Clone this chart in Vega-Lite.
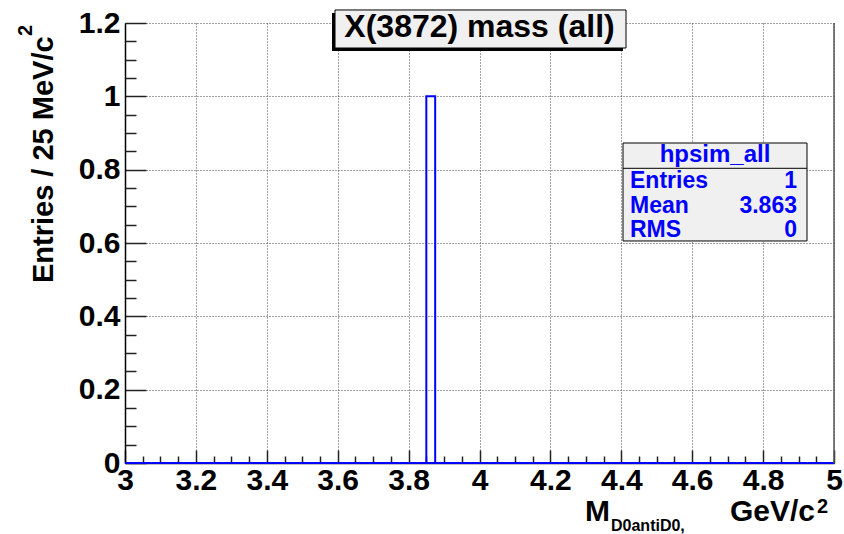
{
  "$schema": "https://vega.github.io/schema/vega-lite/v6.json",
  "width": 709,
  "height": 440,
  "autosize": "none",
  "padding": {"left": 125, "top": 23, "right": 10, "bottom": 71},
  "background": "white",
  "config": {
    "view": {"stroke": null},
    "font": "Liberation Sans",
    "axis": {"labelFont": "Liberation Sans", "titleFont": "Liberation Sans"},
    "text": {"font": "Liberation Sans", "fontWeight": "bold", "baseline": "alphabetic"}
  },
  "datasets": {
    "hpsim_all": [
      {"lo": 3.000, "hi": 3.025, "n": 0}, {"lo": 3.025, "hi": 3.050, "n": 0},
      {"lo": 3.050, "hi": 3.075, "n": 0}, {"lo": 3.075, "hi": 3.100, "n": 0},
      {"lo": 3.100, "hi": 3.125, "n": 0}, {"lo": 3.125, "hi": 3.150, "n": 0},
      {"lo": 3.150, "hi": 3.175, "n": 0}, {"lo": 3.175, "hi": 3.200, "n": 0},
      {"lo": 3.200, "hi": 3.225, "n": 0}, {"lo": 3.225, "hi": 3.250, "n": 0},
      {"lo": 3.250, "hi": 3.275, "n": 0}, {"lo": 3.275, "hi": 3.300, "n": 0},
      {"lo": 3.300, "hi": 3.325, "n": 0}, {"lo": 3.325, "hi": 3.350, "n": 0},
      {"lo": 3.350, "hi": 3.375, "n": 0}, {"lo": 3.375, "hi": 3.400, "n": 0},
      {"lo": 3.400, "hi": 3.425, "n": 0}, {"lo": 3.425, "hi": 3.450, "n": 0},
      {"lo": 3.450, "hi": 3.475, "n": 0}, {"lo": 3.475, "hi": 3.500, "n": 0},
      {"lo": 3.500, "hi": 3.525, "n": 0}, {"lo": 3.525, "hi": 3.550, "n": 0},
      {"lo": 3.550, "hi": 3.575, "n": 0}, {"lo": 3.575, "hi": 3.600, "n": 0},
      {"lo": 3.600, "hi": 3.625, "n": 0}, {"lo": 3.625, "hi": 3.650, "n": 0},
      {"lo": 3.650, "hi": 3.675, "n": 0}, {"lo": 3.675, "hi": 3.700, "n": 0},
      {"lo": 3.700, "hi": 3.725, "n": 0}, {"lo": 3.725, "hi": 3.750, "n": 0},
      {"lo": 3.750, "hi": 3.775, "n": 0}, {"lo": 3.775, "hi": 3.800, "n": 0},
      {"lo": 3.800, "hi": 3.825, "n": 0}, {"lo": 3.825, "hi": 3.850, "n": 0},
      {"lo": 3.850, "hi": 3.875, "n": 1}, {"lo": 3.875, "hi": 3.900, "n": 0},
      {"lo": 3.900, "hi": 3.925, "n": 0}, {"lo": 3.925, "hi": 3.950, "n": 0},
      {"lo": 3.950, "hi": 3.975, "n": 0}, {"lo": 3.975, "hi": 4.000, "n": 0},
      {"lo": 4.000, "hi": 4.025, "n": 0}, {"lo": 4.025, "hi": 4.050, "n": 0},
      {"lo": 4.050, "hi": 4.075, "n": 0}, {"lo": 4.075, "hi": 4.100, "n": 0},
      {"lo": 4.100, "hi": 4.125, "n": 0}, {"lo": 4.125, "hi": 4.150, "n": 0},
      {"lo": 4.150, "hi": 4.175, "n": 0}, {"lo": 4.175, "hi": 4.200, "n": 0},
      {"lo": 4.200, "hi": 4.225, "n": 0}, {"lo": 4.225, "hi": 4.250, "n": 0},
      {"lo": 4.250, "hi": 4.275, "n": 0}, {"lo": 4.275, "hi": 4.300, "n": 0},
      {"lo": 4.300, "hi": 4.325, "n": 0}, {"lo": 4.325, "hi": 4.350, "n": 0},
      {"lo": 4.350, "hi": 4.375, "n": 0}, {"lo": 4.375, "hi": 4.400, "n": 0},
      {"lo": 4.400, "hi": 4.425, "n": 0}, {"lo": 4.425, "hi": 4.450, "n": 0},
      {"lo": 4.450, "hi": 4.475, "n": 0}, {"lo": 4.475, "hi": 4.500, "n": 0},
      {"lo": 4.500, "hi": 4.525, "n": 0}, {"lo": 4.525, "hi": 4.550, "n": 0},
      {"lo": 4.550, "hi": 4.575, "n": 0}, {"lo": 4.575, "hi": 4.600, "n": 0},
      {"lo": 4.600, "hi": 4.625, "n": 0}, {"lo": 4.625, "hi": 4.650, "n": 0},
      {"lo": 4.650, "hi": 4.675, "n": 0}, {"lo": 4.675, "hi": 4.700, "n": 0},
      {"lo": 4.700, "hi": 4.725, "n": 0}, {"lo": 4.725, "hi": 4.750, "n": 0},
      {"lo": 4.750, "hi": 4.775, "n": 0}, {"lo": 4.775, "hi": 4.800, "n": 0},
      {"lo": 4.800, "hi": 4.825, "n": 0}, {"lo": 4.825, "hi": 4.850, "n": 0},
      {"lo": 4.850, "hi": 4.875, "n": 0}, {"lo": 4.875, "hi": 4.900, "n": 0},
      {"lo": 4.900, "hi": 4.925, "n": 0}, {"lo": 4.925, "hi": 4.950, "n": 0},
      {"lo": 4.950, "hi": 4.975, "n": 0}, {"lo": 4.975, "hi": 5.000, "n": 0}
    ],
    "one": [{}]
  },
  "resolve": {"axis": {"x": "independent", "y": "independent"}},
  "layer": [
    {
      "data": {"name": "hpsim_all"},
      "mark": {"type": "rect", "fill": null, "stroke": "#0000ff", "strokeWidth": 2},
      "encoding": {
        "x": {
          "field": "lo", "type": "quantitative",
          "scale": {"domain": [3, 5], "nice": false, "zero": false},
          "axis": {
            "orient": "bottom",
            "values": [3, 3.2, 3.4, 3.6, 3.8, 4, 4.2, 4.4, 4.6, 4.8, 5],
            "labelExpr": "format(datum.value, '.1~f')",
            "title": null,
            "domainColor": "#000000", "domainWidth": 1.5,
            "tickColor": "#222222", "tickSize": -13, "tickWidth": 1.5,
            "labelPadding": 15, "labelFontSize": 30, "labelFontWeight": "bold",
            "labelColor": "#000000", "labelFlush": false, "labelOverlap": false,
            "grid": true, "gridColor": "#444444", "gridDash": [1, 2], "gridWidth": 1
          }
        },
        "x2": {"field": "hi"},
        "y": {
          "field": "n", "type": "quantitative",
          "scale": {"domain": [0, 1.2], "nice": false},
          "axis": {
            "orient": "left",
            "values": [0, 0.2, 0.4, 0.6, 0.8, 1, 1.2],
            "labelExpr": "format(datum.value, '.1~f')",
            "title": null,
            "domainColor": "#000000", "domainWidth": 1.5,
            "tickColor": "#222222", "tickSize": -21, "tickWidth": 1.5,
            "labelPadding": 26, "labelFontSize": 30, "labelFontWeight": "bold",
            "labelColor": "#000000", "labelFlush": false, "labelOverlap": false,
            "grid": true, "gridColor": "#444444", "gridDash": [1, 2], "gridWidth": 1
          }
        },
        "y2": {"datum": 0}
      }
    },
    {
      "data": {"name": "one"},
      "mark": {"type": "rule", "stroke": "#555555", "strokeWidth": 1.5},
      "encoding": {
        "x": {
          "datum": 5,
          "axis": {
            "orient": "bottom",
            "values": [3.05, 3.1, 3.15, 3.25, 3.3, 3.35, 3.45, 3.5, 3.55, 3.65, 3.7, 3.75, 3.85, 3.9, 3.95, 4.05, 4.1, 4.15, 4.25, 4.3, 4.35, 4.45, 4.5, 4.55, 4.65, 4.7, 4.75, 4.85, 4.9, 4.95],
            "title": null, "labels": false, "domain": false, "grid": false,
            "tickColor": "#222222", "tickSize": -7, "tickWidth": 1.5
          }
        },
        "y": {
          "datum": 0,
          "axis": {
            "orient": "left",
            "values": [0.05, 0.1, 0.15, 0.25, 0.3, 0.35, 0.45, 0.5, 0.55, 0.65, 0.7, 0.75, 0.85, 0.9, 0.95, 1.05, 1.1, 1.15],
            "title": null, "labels": false, "domain": false, "grid": false,
            "tickColor": "#222222", "tickSize": -11, "tickWidth": 1.5
          }
        },
        "y2": {"datum": 1.2}
      }
    },
    {
      "data": {"name": "one"},
      "mark": {"type": "rect", "fill": "#000000", "stroke": null},
      "encoding": {
        "x": {"datum": 3.5839, "axis": null}, "x2": {"datum": 4.4048},
        "y": {"datum": 1.2273, "axis": null}, "y2": {"datum": 1.1236}
      }
    },
    {
      "data": {"name": "one"},
      "mark": {"type": "rect", "fill": "#f0f0f0", "stroke": "#000000", "strokeWidth": 1},
      "encoding": {
        "x": {"datum": 3.5924, "axis": null}, "x2": {"datum": 4.4133},
        "y": {"datum": 1.2355, "axis": null}, "y2": {"datum": 1.1318}
      }
    },
    {
      "data": {"name": "one"},
      "mark": {"type": "text", "text": "X(3872) mass (all)", "fontSize": 32, "color": "#000000", "align": "center"},
      "encoding": {"x": {"datum": 4.0, "axis": null}, "y": {"datum": 1.1618, "axis": null}}
    },
    {
      "data": {"name": "one"},
      "mark": {"type": "rect", "fill": "#f0f0f0", "stroke": "#000000", "strokeWidth": 1},
      "encoding": {
        "x": {"datum": 4.4048, "axis": null}, "x2": {"datum": 4.9238},
        "y": {"datum": 0.8727, "axis": null}, "y2": {"datum": 0.6055}
      }
    },
    {
      "data": {"name": "one"},
      "mark": {"type": "rule", "stroke": "#000000", "strokeWidth": 1},
      "encoding": {
        "x": {"datum": 4.4048, "axis": null}, "x2": {"datum": 4.9238},
        "y": {"datum": 0.8037, "axis": null}
      }
    },
    {
      "data": {"name": "one"},
      "mark": {"type": "text", "text": "hpsim_all", "fontSize": 24, "color": "#0000ff", "align": "center"},
      "encoding": {"x": {"datum": 4.6643, "axis": null}, "y": {"datum": 0.8209, "axis": null}}
    },
    {
      "data": {"name": "one"},
      "mark": {"type": "text", "text": "Entries", "fontSize": 23, "color": "#0000ff", "align": "left"},
      "encoding": {"x": {"datum": 4.4245, "axis": null}, "y": {"datum": 0.75, "axis": null}}
    },
    {
      "data": {"name": "one"},
      "mark": {"type": "text", "text": "1", "fontSize": 23, "color": "#0000ff", "align": "right"},
      "encoding": {"x": {"datum": 4.8956, "axis": null}, "y": {"datum": 0.75, "axis": null}}
    },
    {
      "data": {"name": "one"},
      "mark": {"type": "text", "text": "Mean", "fontSize": 23, "color": "#0000ff", "align": "left"},
      "encoding": {"x": {"datum": 4.4245, "axis": null}, "y": {"datum": 0.6818, "axis": null}}
    },
    {
      "data": {"name": "one"},
      "mark": {"type": "text", "text": "3.863", "fontSize": 23, "color": "#0000ff", "align": "right"},
      "encoding": {"x": {"datum": 4.8956, "axis": null}, "y": {"datum": 0.6818, "axis": null}}
    },
    {
      "data": {"name": "one"},
      "mark": {"type": "text", "text": "RMS", "fontSize": 23, "color": "#0000ff", "align": "left"},
      "encoding": {"x": {"datum": 4.4245, "axis": null}, "y": {"datum": 0.6164, "axis": null}}
    },
    {
      "data": {"name": "one"},
      "mark": {"type": "text", "text": "0", "fontSize": 23, "color": "#0000ff", "align": "right"},
      "encoding": {"x": {"datum": 4.8956, "axis": null}, "y": {"datum": 0.6164, "axis": null}}
    },
    {
      "data": {"name": "one"},
      "mark": {"type": "text", "text": "M", "fontSize": 30, "color": "#000000", "align": "left"},
      "encoding": {"x": {"datum": 4.2976, "axis": null}, "y": {"datum": -0.1582, "axis": null}}
    },
    {
      "data": {"name": "one"},
      "mark": {"type": "text", "text": "D0antiD0,", "fontSize": 16, "color": "#000000", "align": "left"},
      "encoding": {"x": {"datum": 4.371, "axis": null}, "y": {"datum": -0.1855, "axis": null}}
    },
    {
      "data": {"name": "one"},
      "mark": {"type": "text", "text": "GeV/c", "fontSize": 30, "color": "#000000", "align": "right"},
      "encoding": {"x": {"datum": 4.9464, "axis": null}, "y": {"datum": -0.1582, "axis": null}}
    },
    {
      "data": {"name": "one"},
      "mark": {"type": "text", "text": "2", "fontSize": 20, "color": "#000000", "align": "left"},
      "encoding": {"x": {"datum": 4.9521, "axis": null}, "y": {"datum": -0.1364, "axis": null}}
    },
    {
      "data": {"name": "one"},
      "mark": {"type": "text", "text": "Entries / 25 MeV/c", "fontSize": 29, "color": "#000000", "align": "left", "angle": 270},
      "encoding": {"x": {"datum": 2.7969, "axis": null}, "y": {"datum": 0.4909, "axis": null}}
    },
    {
      "data": {"name": "one"},
      "mark": {"type": "text", "text": "2", "fontSize": 20, "color": "#000000", "align": "left", "angle": 270},
      "encoding": {"x": {"datum": 2.7377, "axis": null}, "y": {"datum": 1.1645, "axis": null}}
    }
  ]
}
